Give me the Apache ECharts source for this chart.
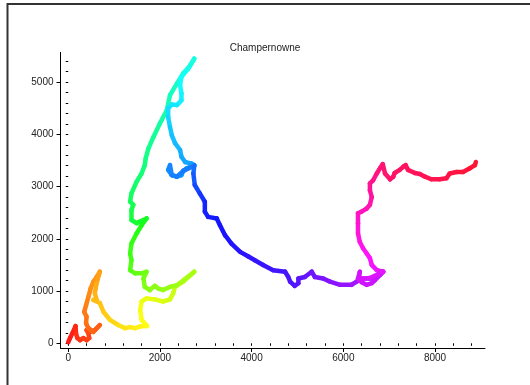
<!DOCTYPE html>
<html>
<head>
<meta charset="utf-8">
<script src="https://cdn.jsdelivr.net/npm/echarts@6/dist/echarts.min.js"></script>
<style>
html, body { margin: 0; padding: 0; background: #fff; }
#chart { width: 530px; height: 385px; }
</style>
</head>
<body>
<div id="chart"></div>
<script>
// walk, in drawing order
const pathX = [
  0, 40, 90, 160, 170, 200, 260, 330, 400, 460,
  440, 400, 480, 580, 690, 550, 440, 390, 400, 350,
  390, 440, 490, 550, 620, 690, 620, 580, 620, 550,
  690, 770, 910, 1090, 1240, 1350, 1460, 1560, 1670, 1720,
  1600, 1570, 1600, 1710, 1890, 2070, 2220, 2290, 2330, 2510,
  2750, 2370, 2220, 2070, 1960, 1890, 1780, 1670, 1640, 1710,
  1600, 1460, 1350, 1380, 1350, 1380, 1490, 1600, 1710, 1490,
  1380, 1380, 1420, 1350, 1380, 1490, 1600, 1670, 1690, 1750,
  1860, 2000, 2150, 2220, 2370, 2510, 2660, 2750, 2620, 2470,
  2440, 2470, 2470, 2370, 2260, 2180, 2180, 2220, 2260, 2330,
  2440, 2470, 2550, 2690, 2750, 2580, 2510, 2470, 2370, 2260,
  2180, 2220, 2260, 2370, 2510, 2750, 2730, 2760, 2870, 2980,
  2980, 3050, 3240, 3310, 3420, 3560, 3750, 3930, 4070, 4250,
  4470, 4730, 4800, 4840, 4940, 5020, 5020, 5160, 5310, 5380,
  5560, 5710, 5930, 6180, 6290, 6360, 6580, 6800, 6870, 6690,
  6620, 6510, 6400, 6320, 6360, 6340, 6580, 6870, 6730, 6620,
  6580, 6510, 6430, 6360, 6320, 6320, 6320, 6400, 6510, 6580,
  6620, 6580, 6580, 6650, 6730, 6800, 6860, 6910, 7020, 7090,
  7120, 7230, 7310, 7360, 7410, 7560, 7670, 7780, 7920, 8100,
  8250, 8320, 8470, 8610, 8760, 8870, 8890
];
const pathY = [
  20, 100, 190, 330, 190, 100, 60, 100, 60, 100,
  190, 250, 220, 250, 350, 220, 290, 380, 510, 600,
  730, 890, 1050, 1180, 1270, 1370, 1150, 960, 830, 830,
  770, 600, 450, 350, 290, 310, 290, 320, 330, 330,
  450, 640, 800, 860, 840, 800, 840, 960, 1080, 1180,
  1370, 1110, 1080, 1020, 1050, 1100, 1020, 1080, 1240, 1370,
  1340, 1340, 1400, 1590, 1720, 1910, 2100, 2260, 2390, 2300,
  2360, 2550, 2650, 2710, 2870, 3090, 3250, 3410, 3540, 3730,
  3950, 4210, 4460, 4750, 4970, 5170, 5320, 5450, 5260, 5100,
  4940, 4780, 4650, 4560, 4570, 4500, 4330, 4140, 3980, 3830,
  3700, 3570, 3470, 3440, 3410, 3350, 3300, 3220, 3190, 3220,
  3320, 3410, 3220, 3190, 3300, 3400, 3250, 3030, 2870, 2710,
  2520, 2420, 2390, 2260, 2070, 1910, 1750, 1660, 1590, 1500,
  1400, 1370, 1270, 1180, 1100, 1150, 1240, 1270, 1370, 1270,
  1240, 1180, 1120, 1120, 1180, 1240, 1240, 1310, 1370, 1210,
  1150, 1120, 1170, 1240, 1370, 1230, 1250, 1370, 1400, 1500,
  1630, 1720, 1820, 1940, 2100, 2300, 2490, 2520, 2580, 2650,
  2800, 2930, 3060, 3120, 3250, 3350, 3430, 3250, 3140, 3190,
  3260, 3320, 3380, 3410, 3320, 3260, 3240, 3190, 3140, 3140,
  3160, 3250, 3280, 3280, 3350, 3410, 3470
];
// hue (step colour) read at a few points of the walk: [point index, hue]
const hueIdx = [0, 14, 25, 39, 50, 59, 68, 74, 87, 104, 115, 119, 134, 148, 157, 166, 176, 196];
const hueVal = [0, 18, 35, 58, 80, 95, 122, 140, 172, 205, 215, 235, 255, 285, 292, 315, 335, 352];
const xTickLabels = [0, 2000, 4000, 6000, 8000];
const yTickLabels = [0, 1000, 2000, 3000, 4000, 5000];

let run = [0];
for (let i = 1; i < pathX.length; i++) {
  run.push(run[i - 1] + Math.hypot(pathX[i] - pathX[i - 1], pathY[i] - pathY[i - 1]));
}
function hueAt(d) {
  // d = distance along the walk
  for (let k = 1; k < hueIdx.length; k++) {
    const d0 = run[hueIdx[k - 1]], d1 = run[hueIdx[k]];
    if (d <= d1 || k === hueIdx.length - 1) {
      const t = d1 > d0 ? Math.min(1, Math.max(0, (d - d0) / (d1 - d0))) : 0;
      return hueVal[k - 1] + t * (hueVal[k] - hueVal[k - 1]);
    }
  }
  return 0;
}
let segs = [];
for (let i = 1; i < pathX.length; i++) {
  segs.push([pathX[i - 1], pathY[i - 1], pathX[i], pathY[i], hueAt((run[i - 1] + run[i]) / 2)]);
}

let xMinor = [], yMinor = [];
for (let v = 0; v <= 8800; v += 400) xMinor.push(v);
for (let v = 0; v <= 5400; v += 200) yMinor.push(v);

const txt = { color: '#222', fontSize: 10, fontFamily: 'Liberation Sans, Arial, sans-serif' };
const XMIN = -168, XMAX = 9090, YMIN = -90, YMAX = 5570;
const plain = v => String(v);

const chart = echarts.init(document.getElementById('chart'));
chart.setOption({
  animation: false,
  backgroundColor: '#fff',
  title: {
    text: 'Champernowne',
    left: 'center',
    top: 38,
    textStyle: Object.assign({ fontWeight: 'normal' }, txt)
  },
  grid: { left: 60.5, right: 45, top: 52.3, bottom: 37 },
  graphic: [{
    type: 'rect',
    shape: { x: 7.5, y: 4, width: 700, height: 700 },
    style: { fill: 'none', stroke: '#333', lineWidth: 2 },
    silent: true
  }],
  xAxis: [{
    type: 'value', min: XMIN, max: XMAX,
    splitLine: { show: false },
    axisLine: { onZero: false, lineStyle: { color: '#000', width: 1 } },
    axisTick: { customValues: xTickLabels, length: 4, lineStyle: { color: '#000' } },
    axisLabel: Object.assign({ customValues: xTickLabels, margin: 5, formatter: plain }, txt)
  }, {
    type: 'value', min: XMIN, max: XMAX, position: 'bottom',
    splitLine: { show: false },
    axisLine: { show: false },
    axisTick: { customValues: xMinor, length: 2.5, lineStyle: { color: '#000' } },
    axisLabel: { show: false }
  }],
  yAxis: [{
    type: 'value', min: YMIN, max: YMAX,
    splitLine: { show: false },
    axisLine: { onZero: false, lineStyle: { color: '#000', width: 1 } },
    axisTick: { customValues: yTickLabels, length: 4, lineStyle: { color: '#000' } },
    axisLabel: Object.assign({ customValues: yTickLabels, margin: 7, formatter: plain }, txt)
  }, {
    type: 'value', min: YMIN, max: YMAX, position: 'left',
    splitLine: { show: false },
    axisLine: { show: false },
    axisTick: { customValues: yMinor, length: 2.5, lineStyle: { color: '#000' } },
    axisLabel: { show: false }
  }],
  series: [{
    type: 'custom',
    xAxisIndex: 0,
    yAxisIndex: 0,
    clip: false,
    encode: { x: [0, 2], y: [1, 3] },
    data: segs,
    renderItem: function (params, api) {
      const a = api.coord([api.value(0), api.value(1)]);
      const b = api.coord([api.value(2), api.value(3)]);
      const h = Math.round(api.value(4));
      return {
        type: 'line',
        shape: { x1: a[0], y1: a[1], x2: b[0], y2: b[1] },
        style: { stroke: 'hsl(' + h + ',100%,54%)', lineWidth: 4.5, lineCap: 'round' }
      };
    }
  }]
});
</script>
</body>
</html>
